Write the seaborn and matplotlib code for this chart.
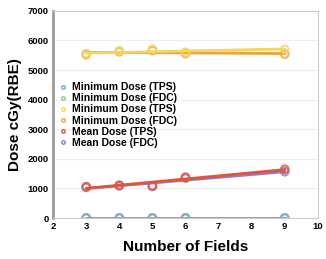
import matplotlib
matplotlib.use('Agg')
import matplotlib.pyplot as plt
import seaborn as sns
import numpy as np

fields = [3, 4, 5, 6, 9]

series_names = ['Minimum Dose (TPS)', 'Minimum Dose (FDC)', 'Minimum Dose (TPS)',
                'Minimum Dose (FDC)', 'Mean Dose (TPS)', 'Mean Dose (FDC)']
min_tps = [5, 5, 5, 5, 5]
min_fdc = [0, 0, 0, 0, 0]
max_tps = [5500, 5650, 5700, 5600, 5700]
max_fdc = [5540, 5620, 5660, 5560, 5540]
mean_tps = [1060, 1110, 1090, 1380, 1650]
mean_fdc = [1040, 1090, 1070, 1350, 1570]
series_values = [min_tps, min_fdc, max_tps, max_fdc, mean_tps, mean_fdc]
colors = ['#6fa8dc', '#93c47d', '#f6d55c', '#e6a445', '#e0553a', '#8e7cc3']
# draw order: TPS series above FDC ones
z_order = [4, 2, 4, 3, 4, 2]

sns.set_style('white')
plt.rcParams['font.family'] = ['Liberation Sans', 'DejaVu Sans']
plt.rcParams['text.color'] = 'black'

fig = plt.figure(figsize=(3.26, 2.59), dpi=100)
ax = fig.add_axes([0.163, 0.158, 0.812, 0.80])

for name, vals, c, z in zip(series_names, series_values, colors, z_order):
    sns.regplot(x=np.array(fields, dtype=float), y=np.array(vals, dtype=float), ax=ax,
                ci=None, color=c, label=name,
                scatter_kws={'s': 30, 'facecolors': 'none', 'edgecolors': c,
                             'linewidths': 1.6, 'zorder': z + 0.5},
                line_kws={'lw': 2, 'zorder': z})

ax.set_xlim(2, 10)
ax.set_ylim(0, 7000)
ax.set_xticks(range(2, 11))
ax.set_yticks(range(0, 7001, 1000))
ax.yaxis.grid(True, color='#eeeeee', lw=0.8)
ax.set_axisbelow(True)
for lab in ax.get_xticklabels() + ax.get_yticklabels():
    lab.set_fontweight('bold')
    lab.set_fontsize(6.8)
    lab.set_color('black')
ax.tick_params(length=0, pad=3)
ax.set_xlabel('Number of Fields', fontsize=11, fontweight='bold', labelpad=6, color='black')
ax.set_ylabel('Dose cGy(RBE)', fontsize=11, fontweight='bold', labelpad=4, color='black')

ax.spines['left'].set_color('#999999')
ax.spines['left'].set_linewidth(2)
for s in ['top', 'right', 'bottom']:
    ax.spines[s].set_color('#cccccc')
    ax.spines[s].set_linewidth(0.8)

handles = [plt.Line2D([], [], ls='none', marker='o', ms=2.5, mfc='none', mec=c, mew=1)
           for c in colors]
leg = ax.legend(handles, series_names, loc='upper left', bbox_to_anchor=(0.01, 0.675),
                frameon=False, handlelength=0.6, handletextpad=0.6, labelspacing=0.1,
                borderaxespad=0.0, prop={'size': 7.5, 'weight': 'bold'})

fig.savefig('out.png', dpi=100)
